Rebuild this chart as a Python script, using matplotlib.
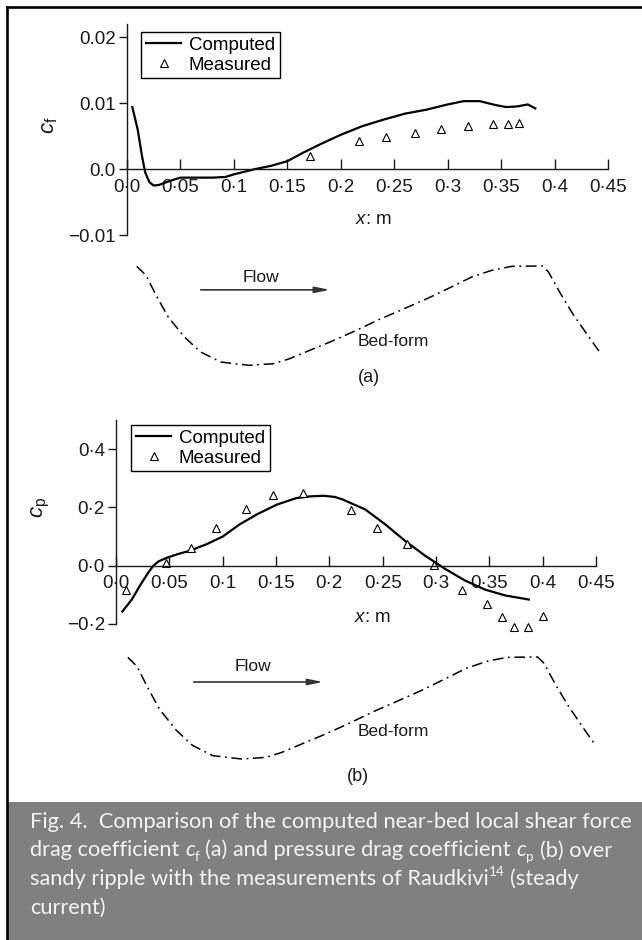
import matplotlib
matplotlib.use("Agg")
import matplotlib.pyplot as plt
from matplotlib.patches import Rectangle
from matplotlib.lines import Line2D

W, H = 642, 940
plt.rcParams['font.family'] = ['Liberation Sans', 'DejaVu Sans']
plt.rcParams['mathtext.fontset'] = 'custom'
plt.rcParams['mathtext.rm'] = 'Liberation Sans'
plt.rcParams['mathtext.it'] = 'Liberation Sans:italic'
plt.rcParams['mathtext.bf'] = 'Liberation Sans:bold'

# ---------------- data ----------------
x_ticks = [0.0, 0.05, 0.1, 0.15, 0.2, 0.25, 0.3, 0.35, 0.4, 0.45]
x_ticklabels = ['0·0', '0·05', '0·1', '0·15', '0·2', '0·25', '0·3', '0·35', '0·4', '0·45']

cf_yticks = [-0.01, 0.0, 0.01, 0.02]
cf_yticklabels = ['\u22120.01', '0.0', '0.01', '0.02']
cp_yticks = [-0.2, 0.0, 0.2, 0.4]
cp_yticklabels = ['\u22120·2', '0·0', '0·2', '0·4']

cf_comp_x = [0.005, 0.010, 0.014, 0.017, 0.021, 0.025, 0.030, 0.040, 0.050, 0.065,
             0.080, 0.092, 0.100, 0.110, 0.120, 0.135, 0.150, 0.165, 0.180, 0.200,
             0.220, 0.240, 0.260, 0.280, 0.300, 0.315, 0.330, 0.345, 0.355, 0.365,
             0.375, 0.382]
cf_comp_y = [0.0094, 0.0060, 0.0020, -0.0005, -0.0020, -0.0025, -0.0024, -0.0018, -0.0013, -0.0013,
             -0.0013, -0.0012, -0.0008, -0.0004, 0.0000, 0.0005, 0.0012, 0.0025, 0.0037, 0.0052,
             0.0065, 0.0075, 0.0084, 0.0090, 0.0098, 0.0103, 0.0103, 0.0097, 0.0094, 0.0095,
             0.0098, 0.0092]
cf_meas_x = [0.171, 0.217, 0.242, 0.269, 0.294, 0.319, 0.342, 0.356, 0.367]
cf_meas_y = [0.0020, 0.0042, 0.0049, 0.0055, 0.0061, 0.0065, 0.0068, 0.0069, 0.0070]

cp_comp_x = [0.006, 0.015, 0.0225, 0.030, 0.035, 0.040, 0.0475, 0.058, 0.069, 0.085,
             0.100, 0.116, 0.132, 0.151, 0.169, 0.182, 0.195, 0.205, 0.212, 0.2337,
             0.2524, 0.2711, 0.2899, 0.3086, 0.3273, 0.346, 0.3648, 0.387]
cp_comp_y = [-0.157, -0.115, -0.068, -0.025, 0.000, 0.015, 0.027, 0.040, 0.051, 0.074,
             0.100, 0.142, 0.176, 0.210, 0.232, 0.238, 0.240, 0.236, 0.228, 0.193,
             0.142, 0.085, 0.034, -0.011, -0.051, -0.082, -0.102, -0.116]
cp_meas_x = [0.009, 0.047, 0.070, 0.094, 0.122, 0.147, 0.175, 0.220, 0.245, 0.273,
             0.298, 0.324, 0.348, 0.362, 0.373, 0.386, 0.400]
cp_meas_y = [-0.085, 0.009, 0.061, 0.131, 0.193, 0.241, 0.250, 0.190, 0.130, 0.074,
             0.002, -0.082, -0.132, -0.176, -0.212, -0.212, -0.173]

# bed-form profile (x in m, normalised elevation 0 = trough, 1 = crest)
bed_x = [0.0091, 0.0178, 0.0272, 0.0386, 0.0537, 0.0689, 0.0877, 0.1143, 0.137, 0.152,
         0.171, 0.190, 0.2126, 0.2354, 0.258, 0.2807, 0.3035, 0.3224, 0.3414, 0.3602,
         0.3886, 0.3943, 0.4056, 0.417, 0.4321, 0.4415]
bed_z = [0.997, 0.906, 0.705, 0.486, 0.285, 0.134, 0.033, 0.0, 0.016, 0.066,
         0.151, 0.235, 0.342, 0.459, 0.564, 0.671, 0.789, 0.889, 0.957, 0.997,
         1.0, 0.940, 0.721, 0.520, 0.285, 0.144]

# ---------------- figure ----------------
fig = plt.figure(figsize=(W / 100, H / 100), dpi=100)
fig.patch.set_facecolor('white')


def rect(l, t, r, b):
    return [l / W, 1 - b / H, (r - l) / W, (b - t) / H]


INK = '#1a1a1a'
TICK_FS = 13.5


def style_axes(ax, ylim, yticks, ylabels):
    ax.set_xlim(0, 0.45)
    ax.set_ylim(*ylim)
    ax.patch.set_visible(False)
    for s in ['top', 'right']:
        ax.spines[s].set_visible(False)
    ax.spines['bottom'].set_position(('data', 0))
    for s in ['bottom', 'left']:
        ax.spines[s].set_linewidth(1.0)
        ax.spines[s].set_color(INK)
    ax.set_xticks(x_ticks, x_ticklabels)
    ax.set_yticks(yticks, ylabels)
    ax.tick_params(axis='x', direction='in', length=7, width=1.0, pad=7,
                   labelsize=TICK_FS, colors=INK)
    ax.tick_params(axis='y', direction='out', length=6, width=1.0, pad=2,
                   labelsize=TICK_FS, colors=INK)


def add_legend(ax, anchor_px):
    h1 = Line2D([], [], color='k', lw=1.6)
    h2 = Line2D([], [], ls='none', marker='^', ms=6, mfc='white', mec='k', mew=0.8)
    leg = ax.legend([h1, h2], ['Computed', 'Measured'], loc='upper left',
                    bbox_to_anchor=(anchor_px[0] / W, 1 - anchor_px[1] / H),
                    bbox_transform=fig.transFigure, borderaxespad=0,
                    fontsize=13.5, frameon=True, fancybox=False, framealpha=1,
                    edgecolor='k', handlelength=1.9, handletextpad=0.4,
                    borderpad=0.25, labelspacing=0.15)
    leg.get_frame().set_linewidth(1.0)


def draw_bed(rect_px, flow_x, flow_z, arrow_x, arrow_z, bed_lbl, bed_lbl_z, tag, tag_x, tag_z):
    bx = fig.add_axes(rect(*rect_px))
    bx.set_xlim(0, 0.45)
    bx.set_ylim(0, 1)
    bx.axis('off')
    bx.plot(bed_x, bed_z, color='k', lw=1.1, ls=(0, (7, 3, 1.2, 3)), clip_on=False)
    bx.text(flow_x, flow_z, 'Flow', ha='center', va='center', fontsize=12.5, color=INK)
    bx.annotate('', xy=(arrow_x[1], arrow_z), xytext=(arrow_x[0], arrow_z),
                arrowprops=dict(arrowstyle='-|>,head_length=0.9,head_width=0.18',
                                lw=1.2, color='#333333', shrinkA=0, shrinkB=0),
                annotation_clip=False)
    bx.text(bed_lbl[0], bed_lbl_z, bed_lbl[1], ha='center', va='center', fontsize=12.5, color=INK)
    bx.text(tag_x, tag_z, tag, ha='center', va='center', fontsize=13, color=INK)


# ----- panel (a) -----
ax1 = fig.add_axes(rect(127, 24, 608, 235))
style_axes(ax1, (-0.01, 0.022), cf_yticks, cf_yticklabels)
ax1.plot(cf_comp_x, cf_comp_y, color='k', lw=1.6, clip_on=False)
ax1.plot(cf_meas_x, cf_meas_y, ls='none', marker='^', ms=6, mfc='white', mec='k', mew=0.8)
add_legend(ax1, (141, 32))
fig.text(49 / W, 1 - 125 / H, r'$c_{\mathrm{f}}$', rotation=90, ha='center', va='center',
         fontsize=16, color=INK)
fig.text(373 / W, 1 - 220 / H, r'$x$: m', ha='center', va='center', fontsize=13.5, color=INK)

draw_bed((127, 266, 608, 365.3), 0.125, 0.88, (0.069, 0.19), 0.76,
         (0.249, 'Bed-form'), 0.235, '(a)', 0.226, -0.118)

# ----- panel (b) -----
ax2 = fig.add_axes(rect(116, 420, 596, 624))
style_axes(ax2, (-0.2, 0.5), cp_yticks, cp_yticklabels)
ax2.plot(cp_comp_x, cp_comp_y, color='k', lw=1.6, clip_on=False)
ax2.plot(cp_meas_x, cp_meas_y, ls='none', marker='^', ms=6, mfc='white', mec='k', mew=0.8,
         clip_on=False)
add_legend(ax2, (131, 425))
fig.text(41 / W, 1 - 507 / H, r'$c_{\mathrm{p}}$', rotation=90, ha='center', va='center',
         fontsize=16, color=INK)
fig.text(372 / W, 1 - 617 / H, r'$x$: m', ha='center', va='center', fontsize=13.5, color=INK)

draw_bed((118, 657, 604, 759), 0.125, 0.91, (0.07, 0.19), 0.755,
         (0.255, 'Bed-form'), 0.265, '(b)', 0.222, -0.176)

# ----- frame and caption box -----
fig.add_artist(Rectangle((8 / W, 0), 1 - 8 / W, 1 - 802 / H, transform=fig.transFigure,
                         facecolor='#808080', edgecolor='none', zorder=0))
fig.add_artist(Line2D([6.5 / W, 6.5 / W], [0, 1 - 6.5 / H], transform=fig.transFigure,
                      color='k', lw=1.9, solid_capstyle='projecting'))
fig.add_artist(Line2D([6.5 / W, 1], [1 - 6.5 / H, 1 - 6.5 / H], transform=fig.transFigure,
                      color='k', lw=1.9, solid_capstyle='projecting'))

renderer = fig.canvas.get_renderer()
CAP_FONT = ['Lato', 'DejaVu Sans']
CAP_COL = '#f4f4f4'


def seg_width(s, size, style='normal'):
    t = fig.text(0, 0, s, fontsize=size, family=CAP_FONT, style=style)
    w = t.get_window_extent(renderer=renderer).width
    t.remove()
    return w


def space_width(size):
    return seg_width('x x', size) - seg_width('xx', size)


line1 = 'Fig. 4.  Comparison of the computed near-bed local shear force'
w12 = seg_width(line1, 12)
CAP_FS = 12 * 599 / w12
fs_px = CAP_FS * 100 / 72

caption = [
    [('Fig. 4.  Comparison of the computed near-bed local shear force', 'n')],
    [('drag coefficient ', 'n'), ('c', 'i'), ('f', 'sub'), (' (a) and pressure drag coefficient ', 'n'),
     ('c', 'i'), ('p', 'sub'), (' (b) over', 'n')],
    [('sandy ripple with the measurements of Raudkivi', 'n'), ('14', 'sup'), (' (steady', 'n')],
    [('current)', 'n')],
]
baselines = [828, 856.5, 885, 913.5]
x_start = 30

for segs, yb in zip(caption, baselines):
    x = x_start
    for s, kind in segs:
        size = CAP_FS
        style = 'normal'
        dy = 0
        if kind == 'i':
            style = 'italic'
        elif kind == 'sub':
            size = CAP_FS * 0.62
            dy = 0.22 * fs_px
        elif kind == 'sup':
            size = CAP_FS * 0.62
            dy = -0.42 * fs_px
        lead = len(s) - len(s.lstrip(' '))
        trail = len(s) - len(s.rstrip(' '))
        core = s.strip(' ')
        sw = space_width(size)
        x += lead * sw
        fig.text(x / W, 1 - (yb + dy) / H, core, fontsize=size, family=CAP_FONT, style=style,
                 color=CAP_COL, ha='left', va='baseline')
        x += seg_width(core, size, style) + trail * sw

fig.savefig('out.png', dpi=100, facecolor='white')
